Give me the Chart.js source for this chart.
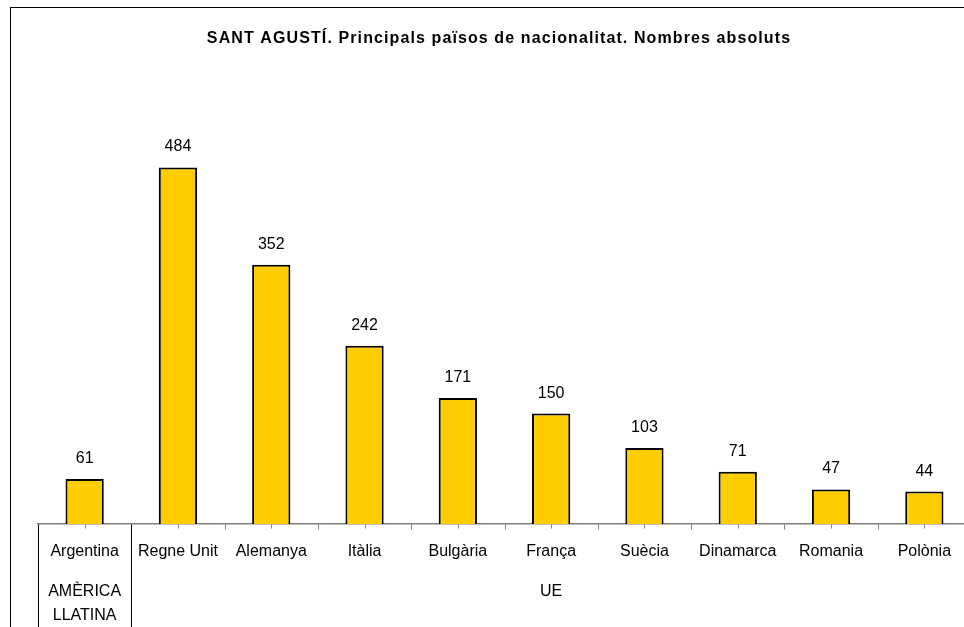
<!DOCTYPE html>
<html><head><meta charset="utf-8">
<script src="https://cdn.jsdelivr.net/npm/chart.js@4/dist/chart.umd.min.js"></script>
<style>
html,body{margin:0;padding:0;overflow:hidden;background:#fff;width:964px;height:627px}
#wrap{position:absolute;left:0;top:0;width:1000px;height:660px}
</style></head><body>
<div id="wrap"><canvas id="c" width="1000" height="660"></canvas></div>
<script>
const titleText = 'SANT AGUSTÍ. Principals països de nacionalitat. Nombres absoluts';
const categories = ['Argentina','Regne Unit','Alemanya','Itàlia','Bulgària','França','Suècia','Dinamarca','Romania','Polònia'];
const values = [61,484,352,242,171,150,103,71,47,44];
const groupLabels = [['AMÈRICA','LLATINA'],['UE']];
const groupFirst = [0,1];
const groupLast = [0,9];

const FONT = '"Liberation Sans", Arial, sans-serif';

const deco = {
  id: 'deco',
  beforeDraw(chart) {
    const ctx = chart.ctx;
    ctx.save();
    ctx.fillStyle = '#fff';
    ctx.fillRect(0, 0, chart.width, chart.height);
    ctx.restore();
  },
  afterDraw(chart) {
    const ctx = chart.ctx, xs = chart.scales.x, area = chart.chartArea;
    ctx.save();
    // outer frame
    ctx.strokeStyle = '#000';
    ctx.lineWidth = 1;
    ctx.strokeRect(10.5, 7.5, 978, 700);
    // title
    ctx.fillStyle = '#000';
    ctx.font = 'bold 16px ' + FONT;
    if ('letterSpacing' in ctx) ctx.letterSpacing = '1.1px';
    ctx.textAlign = 'center';
    ctx.textBaseline = 'middle';
    ctx.fillText(titleText, 499, 39);
    if ('letterSpacing' in ctx) ctx.letterSpacing = '0px';
    // value labels
    const meta = chart.getDatasetMeta(0);
    ctx.font = '16px ' + FONT;
    ctx.textBaseline = 'alphabetic';
    meta.data.forEach((b, i) => ctx.fillText(String(values[i]), b.x, b.y - 16));
    // ticks
    const n = categories.length;
    const w = (area.right - area.left) / n;
    const y0 = Math.round(xs.top) + 0.5;
    ctx.strokeStyle = '#808080';
    ctx.beginPath();
    for (let i = 0; i < n; i++) {
      const cx = Math.round(xs.getPixelForValue(i)) + 0.5;
      ctx.moveTo(cx, y0); ctx.lineTo(cx, y0 + 4);
      if (i > 0) {
        const bx = Math.round(xs.getPixelForValue(i) - w / 2) + 0.5;
        ctx.moveTo(bx, y0); ctx.lineTo(bx, y0 + 5);
      }
    }
    ctx.stroke();
    // group separators
    ctx.strokeStyle = '#000';
    ctx.beginPath();
    const edges = new Set();
    groupFirst.forEach((f, g) => {
      edges.add(Math.round(xs.getPixelForValue(f) - w / 2));
      edges.add(Math.round(xs.getPixelForValue(groupLast[g]) + w / 2));
    });
    edges.forEach(ex => { ctx.moveTo(ex + 0.5, y0); ctx.lineTo(ex + 0.5, chart.height); });
    ctx.stroke();
    // group labels
    ctx.fillStyle = '#000';
    ctx.font = '16px ' + FONT;
    ctx.textAlign = 'center';
    ctx.textBaseline = 'middle';
    groupLabels.forEach((lines, g) => {
      const left = xs.getPixelForValue(groupFirst[g]) - w / 2;
      const right = xs.getPixelForValue(groupLast[g]) + w / 2;
      const cx = (left + right) / 2;
      lines.forEach((t, k) => ctx.fillText(t, cx, 592 + k * 24));
    });
    ctx.restore();
  }
};

new Chart(document.getElementById('c'), {
  type: 'bar',
  data: {
    labels: categories,
    datasets: [{
      data: values,
      backgroundColor: '#FFCC00',
      borderColor: '#000',
      borderWidth: 2,
      barPercentage: 0.41,
      categoryPercentage: 1
    }]
  },
  options: {
    responsive: false,
    animation: false,
    devicePixelRatio: 1,
    layout: { padding: { left: 38, right: 29, top: 82, bottom: 0 } },
    plugins: { legend: { display: false }, title: { display: false }, tooltip: { enabled: false } },
    scales: {
      x: {
        grid: { display: false },
        border: { display: true, color: '#808080', width: 1.5 },
        ticks: { color: '#000', font: { size: 16, family: FONT }, padding: 10, maxRotation: 0, autoSkip: false },
        afterFit(scale) { scale.height = 136; }
      },
      y: {
        display: false,
        min: 0,
        max: 600
      }
    }
  },
  plugins: [deco]
});
</script>
</body></html>
